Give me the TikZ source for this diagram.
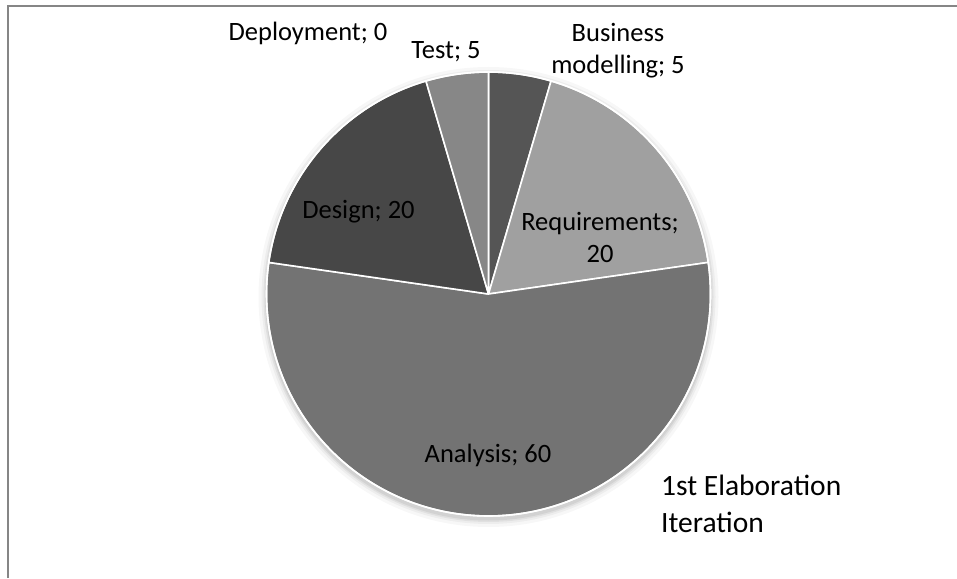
\documentclass[tikz,border=0pt]{standalone}
\usepackage{fontspec}
\setmainfont{Carlito}
\begin{document}
\begin{tikzpicture}[x=1pt,y=1pt,
  lbl/.style={inner sep=0pt, font=\fontsize{26.5}{32}\selectfont, text=black},
  ttl/.style={inner sep=0pt, font=\fontsize{29.5}{37}\selectfont, text=black, align=left},
  slice/.style={draw=white, line width=1.6pt, line join=round}]
\useasboundingbox (0,0) rectangle (957,578);
\fill[white] (0,0) rectangle (957,578);
% frame (top and left edges visible)
\draw[color={rgb,255:red,134;green,134;blue,134}, line width=2pt] (8,0) -- (8,572) -- (957,572);
\coordinate (C) at (488.5,284);
% soft shadow
\foreach \rr/\op in {230/0.03,227/0.04,225/0.05,223.5/0.06}
  \fill[black, opacity=\op] (488.5,281) circle[radius=\rr];
\definecolor{cB}{RGB}{85,85,85}
\definecolor{cR}{RGB}{160,160,160}
\definecolor{cA}{RGB}{115,115,115}
\definecolor{cD}{RGB}{71,71,71}
\definecolor{cT}{RGB}{135,135,135}
\def\R{222}
\fill[slice, fill=cB] (C) -- ++(90:\R) arc[start angle=90, end angle=73.636, radius=\R] -- cycle;
\fill[slice, fill=cR] (C) -- ++(73.636:\R) arc[start angle=73.636, end angle=8.182, radius=\R] -- cycle;
\fill[slice, fill=cA] (C) -- ++(8.182:\R) arc[start angle=8.182, end angle=-188.182, radius=\R] -- cycle;
\fill[slice, fill=cD] (C) -- ++(171.818:\R) arc[start angle=171.818, end angle=106.364, radius=\R] -- cycle;
\fill[slice, fill=cT] (C) -- ++(106.364:\R) arc[start angle=106.364, end angle=90, radius=\R] -- cycle;
\draw[white, line width=1.6pt] (C) circle[radius=\R];
% labels
\node[lbl, anchor=base] (dep) at (308,537.3) {Deployment; 0};
\node[lbl, anchor=base] (tst) at (446,519.7) {Test; 5};
\node[lbl, anchor=base, align=center] (bus) at (618,504) {Business\\modelling; 5};
\node[lbl, anchor=base] (des) at (358.5,359.7) {Design; 20};
\node[lbl, anchor=base, align=center] (req) at (600,315.3) {Requirements;\\20};
\node[lbl, anchor=base] (ana) at (488,115.3) {Analysis; 60};
\node[ttl, anchor=base west] (ttl) at (661,46) {1st Elaboration\\Iteration};
\end{tikzpicture}
\end{document}
